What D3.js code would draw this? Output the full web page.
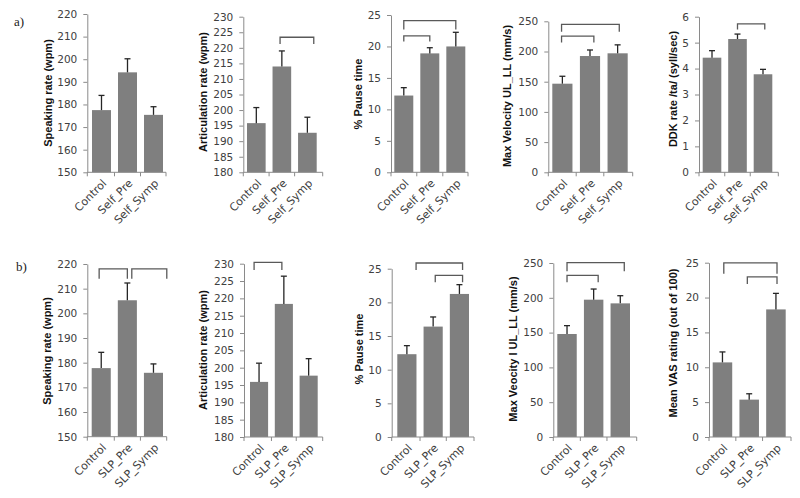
<!DOCTYPE html>
<html><head><meta charset="utf-8">
<script src="https://cdn.jsdelivr.net/npm/d3@7"></script>
<style>body{margin:0;background:#fff}</style>
</head><body>
<svg id="c" width="800" height="498"></svg>
<script>
// ---------- data ----------
const catsA = ["Control", "Self_Pre", "Self_Symp"];
const catsB = ["Control", "SLP_Pre", "SLP_Symp"];

const titles = [
  "Speaking rate (wpm)", "Articulation rate (wpm)", "% Pause time",
  "Max Velocity UL_LL (mm/s)", "DDK rate /ta/ (syll/sec)",
  "Speaking rate (wpm)", "Articulation rate (wpm)", "% Pause time",
  "Max Veocity l UL_LL (mm/s)", "Mean VAS rating (out of 100)"
];

const yDomains = [[150, 220], [180, 230], [0, 25], [0, 250], [0, 6],
                  [150, 220], [180, 230], [0, 25], [0, 250], [0, 25]];
const yTickSteps = [10, 5, 5, 50, 1, 10, 5, 5, 50, 5];

// means
const meanA1 = [177.5, 194.2, 175.4];
const meanA2 = [195.8, 214.0, 192.7];
const meanA3 = [12.2, 18.9, 20.0];
const meanA4 = [146.7, 192.5, 197.0];
const meanA5 = [4.42, 5.14, 3.78];
const meanB1 = [177.8, 205.3, 175.9];
const meanB2 = [195.9, 218.4, 197.7];
const meanB3 = [12.3, 16.4, 21.25];
const meanB4 = [148.0, 197.3, 192.0];
const meanB5 = [10.7, 5.36, 18.3];

// upper error (standard error) magnitudes
const errA1 = [6.5, 6.0, 3.6];
const errA2 = [5.0, 5.0, 5.0];
const errA3 = [1.25, 0.9, 2.25];
const errA4 = [12.3, 10.0, 14.0];
const errA5 = [0.27, 0.19, 0.19];
const errB1 = [6.4, 7.0, 3.6];
const errB2 = [5.4, 8.0, 4.9];
const errB3 = [1.27, 1.43, 1.38];
const errB4 = [12.0, 15.3, 11.0];
const errB5 = [1.5, 0.84, 2.3];

// significance brackets: [from index, to index, top value, leg-end value]
const brA1 = [];
const brA2 = [[0.93, 2.25, 223.4, 221.2]];
const brA3 = [[0, 2, 24.1, 22.7], [0, 1, 21.67, 20.8]];
const brA4 = [[-0.03, 2.06, 245, 232.8], [-0.03, 1.14, 225.6, 215]];
const brA5 = [[1, 2.07, 5.72, 5.51]];
const brB1 = [[-0.08, 1.0, 218, 214], [1.17, 2.51, 218, 214]];
const brB2 = [[-0.2, 0.92, 230.4, 228.2]];
const brB3 = [[0.35, 2.12, 25.85, 24.8], [1.08, 2.12, 24.0, 23.0]];
const brB4 = [[0, 2.15, 250.4, 238], [0, 1.17, 232.3, 222.3]];
const brB5 = [[0.05, 2.04, 24.97, 23.4], [0.93, 2.04, 22.96, 21.95]];

const panelMeans = [meanA1, meanA2, meanA3, meanA4, meanA5, meanB1, meanB2, meanB3, meanB4, meanB5];
const panelErrs = [errA1, errA2, errA3, errA4, errA5, errB1, errB2, errB3, errB4, errB5];
const panelBrackets = [brA1, brA2, brA3, brA4, brA5, brB1, brB2, brB3, brB4, brB5];

// ---------- layout (positions only) ----------
const layout = [
  {ax: 87.3, aEnd: 166, top: 14, bot: 172.3, b0: 92, b1: 163, tx: 48, ty: 93},
  {ax: 243.3, aEnd: 322.7, top: 16.7, bot: 172.3, b0: 247, b1: 316.7, tx: 203, ty: 92},
  {ax: 391, aEnd: 468, top: 15, bot: 172.3, b0: 394.3, b1: 465.3, tx: 358, ty: 94},
  {ax: 548.3, aEnd: 632.7, top: 21.3, bot: 172.3, b0: 552.3, b1: 627.7, tx: 507, ty: 96},
  {ax: 699, aEnd: 778.3, top: 16.7, bot: 172.3, b0: 702.7, b1: 772.3, tx: 672.7, ty: 89},
  {ax: 87.3, aEnd: 166.7, top: 264, bot: 436.7, b0: 91.7, b1: 163, tx: 46.7, ty: 351},
  {ax: 244, aEnd: 322.7, top: 263.7, bot: 437, b0: 250, b1: 317.7, tx: 203, ty: 350},
  {ax: 391.7, aEnd: 474, top: 268.7, bot: 437, b0: 397.3, b1: 469, tx: 359, ty: 349},
  {ax: 553.3, aEnd: 636.7, top: 263, bot: 437, b0: 557.3, b1: 630, tx: 513, ty: 349},
  {ax: 709, aEnd: 791, top: 262.7, bot: 437, b0: 712.7, b1: 785.7, tx: 673, ty: 343}
];

const svg = d3.select("#c");
const tickFont = "DejaVu Sans, sans-serif";
const axisColor = "#8a8a8a";
const textColor = "#404040";

layout.forEach((L, i) => {
  const cats = i < 5 ? catsA : catsB;
  const means = panelMeans[i], errs = panelErrs[i];
  const dom = yDomains[i];
  const y = d3.scaleLinear().domain(dom).range([L.bot, L.top]);
  const x = d3.scaleBand().domain(cats).range([L.b0, L.b1]).paddingInner(0.27).paddingOuter(0);
  const bw = x.bandwidth();
  const xi = d3.scaleLinear().domain([0, 2]).range([x(cats[0]) + bw / 2, x(cats[2]) + bw / 2]);
  const g = svg.append("g");

  // bars
  g.selectAll("rect.bar").data(means).join("rect")
    .attr("x", (d, k) => x(cats[k]))
    .attr("width", bw)
    .attr("y", d => y(d))
    .attr("height", d => L.bot - y(d))
    .attr("fill", "#7f7f7f");

  // error bars (upper only)
  means.forEach((m, k) => {
    const cx = x(cats[k]) + bw / 2;
    g.append("line").attr("x1", cx).attr("x2", cx)
      .attr("y1", y(m)).attr("y2", y(m + errs[k]))
      .attr("stroke", "#262626").attr("stroke-width", 1.3);
    g.append("line").attr("x1", cx - 3).attr("x2", cx + 3)
      .attr("y1", y(m + errs[k])).attr("y2", y(m + errs[k]))
      .attr("stroke", "#262626").attr("stroke-width", 1.3);
  });

  // y axis
  const ticks = d3.range(dom[0], dom[1] + yTickSteps[i] / 2, yTickSteps[i]);
  const ya = g.append("g").attr("transform", `translate(${L.ax},0)`)
    .call(d3.axisLeft(y).tickValues(ticks).tickSize(4).tickSizeOuter(0).tickPadding(6).tickFormat(d3.format("d")));
  ya.select(".domain").attr("stroke", axisColor);
  ya.selectAll(".tick line").attr("stroke", axisColor);
  ya.selectAll(".tick text").attr("fill", textColor)
    .style("font-family", tickFont).style("font-size", "10.5px");

  // x axis line
  g.append("line").attr("x1", L.ax).attr("x2", L.aEnd).attr("y1", L.bot).attr("y2", L.bot)
    .attr("stroke", axisColor);
  const bounds = [L.ax,
    (x(cats[0]) + bw + x(cats[1])) / 2,
    (x(cats[1]) + bw + x(cats[2])) / 2,
    L.aEnd];
  bounds.forEach(bx => {
    g.append("line").attr("x1", bx).attr("x2", bx).attr("y1", L.bot).attr("y2", L.bot + 4)
      .attr("stroke", axisColor);
  });
  // x labels
  cats.forEach((c, k) => {
    const cx = x(c) + bw / 2 + 3;
    g.append("text").attr("transform", `translate(${cx},${L.bot + 9}) rotate(-45)`)
      .attr("text-anchor", "end").attr("dy", "0.35em")
      .attr("fill", textColor)
      .style("font-family", tickFont).style("font-size", "11px")
      .text(c);
  });

  // brackets
  panelBrackets[i].forEach(b => {
    const x1 = xi(b[0]), x2 = xi(b[1]);
    const yt = y(b[2]), yl = y(b[3]);
    g.append("path")
      .attr("d", `M${x1},${yl} L${x1},${yt} L${x2},${yt} L${x2},${yl}`)
      .attr("fill", "none").attr("stroke", "#595959").attr("stroke-width", 1.3);
  });

  // y title
  g.append("text").attr("transform", `translate(${L.tx},${L.ty}) rotate(-90)`)
    .attr("text-anchor", "middle").attr("dy", "0.35em")
    .attr("fill", "#111")
    .style("font-family", "Liberation Sans, Arial, sans-serif")
    .style("font-weight", "bold").style("font-size", "11px")
    .text(titles[i]);
});

// row labels
svg.append("text").attr("x", 14).attr("y", 26).text("a)")
  .style("font-family", "Liberation Serif, serif").style("font-size", "13px").attr("fill", "#222");
svg.append("text").attr("x", 16).attr("y", 271).text("b)")
  .style("font-family", "Liberation Serif, serif").style("font-size", "13px").attr("fill", "#222");
</script>
</body></html>
